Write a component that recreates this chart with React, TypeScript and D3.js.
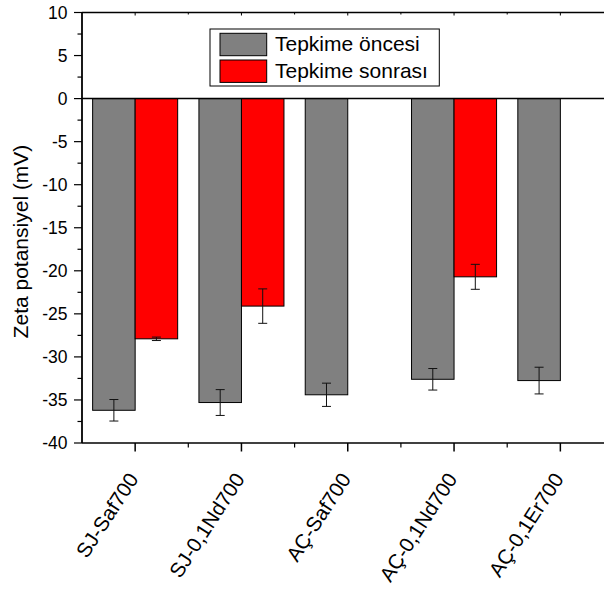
import React from "react";
import * as d3 from "d3";

const categories = ["SJ-Saf700", "SJ-0,1Nd700", "AÇ-Saf700", "AÇ-0,1Nd700", "AÇ-0,1Er700"];
const beforeValues = [-36.2, -35.3, -34.4, -32.6, -32.75];
const beforeErrors = [1.25, 1.5, 1.35, 1.25, 1.55];
const afterValues: (number | null)[] = [-27.9, -24.1, null, -20.7, null];
const afterErrors: (number | null)[] = [0.2, 2.0, null, 1.45, null];
const seriesNames = ["Tepkime öncesi", "Tepkime sonrası"];
const yTicks = [10, 5, 0, -5, -10, -15, -20, -25, -30, -35, -40];

const W = 604;
const H = 592;
const FONT = "'Liberation Sans', Arial, sans-serif";

export default function App() {
  const left = 82;
  const step = 106.3;
  const x = d3.scaleBand<string>().domain(categories).range([left, left + step * categories.length]).paddingInner(0).paddingOuter(0);
  const bw = x.bandwidth();
  const barW = bw * 0.4;
  const y = d3.scaleLinear().domain([-40, 10]).range([443, 12.5]);
  const top = y(10);
  const bottom = y(-40);
  const minorY = d3.range(-40, 10.01, 2.5);
  const cx = (c: string) => (x(c) as number) + bw / 2;
  const right = W + 20;

  const errBar = (xc: number, v: number, e: number, key: string) => (
    <g key={key} stroke="#111" strokeWidth={1}>
      <line x1={xc} x2={xc} y1={y(v + e)} y2={y(v - e)} />
      <line x1={xc - 4.5} x2={xc + 4.5} y1={y(v + e)} y2={y(v + e)} />
      <line x1={xc - 4.5} x2={xc + 4.5} y1={y(v - e)} y2={y(v - e)} />
    </g>
  );

  return (
    <svg width={W} height={H} style={{ position: "absolute", left: 0, top: 0, background: "#fff" }} fontFamily={FONT}>
      <rect x={0} y={0} width={W} height={H} fill="#fff" />
      {categories.map((c, i) => (
        <g key={c}>
          <rect x={cx(c) - barW} y={y(0)} width={barW} height={y(beforeValues[i]) - y(0)} fill="#808080" stroke="#000" strokeWidth={1} />
          {afterValues[i] !== null && (
            <rect x={cx(c)} y={y(0)} width={barW} height={y(afterValues[i] as number) - y(0)} fill="#FF0000" stroke="#000" strokeWidth={1} />
          )}
        </g>
      ))}
      {categories.map((c, i) => errBar(cx(c) - barW / 2, beforeValues[i], beforeErrors[i], "eb" + i))}
      {categories.map((c, i) =>
        afterValues[i] !== null ? errBar(cx(c) + barW / 2, afterValues[i] as number, afterErrors[i] as number, "ea" + i) : null
      )}
      <line x1={left} x2={right} y1={y(0)} y2={y(0)} stroke="#000" strokeWidth={1.5} />
      <line x1={left} x2={right} y1={top} y2={top} stroke="#000" strokeWidth={1.5} />
      <line x1={left} x2={right} y1={bottom} y2={bottom} stroke="#000" strokeWidth={1.5} />
      <line x1={left} x2={left} y1={top} y2={bottom} stroke="#000" strokeWidth={1.8} />
      {minorY.map((v) => {
        const major = Math.abs(v % 5) < 1e-6;
        return <line key={"yt" + v} x1={left - (major ? 8 : 4.5)} x2={left} y1={y(v)} y2={y(v)} stroke="#000" strokeWidth={1.2} />;
      })}
      {yTicks.map((v) => (
        <text key={"yl" + v} x={67.5} y={y(v)} dy="0.36em" textAnchor="end" fontSize={17.5} fill="#000">
          {v}
        </text>
      ))}
      {categories.map((c, i) => (
        <g key={"xt" + i}>
          <line x1={cx(c)} x2={cx(c)} y1={bottom} y2={bottom + 8.5} stroke="#000" strokeWidth={1.5} />
          <line x1={cx(c) + bw / 2} x2={cx(c) + bw / 2} y1={bottom} y2={bottom + 4.5} stroke="#000" strokeWidth={1.2} />
          <line x1={cx(c)} x2={cx(c)} y1={top} y2={top + 3} stroke="#000" strokeWidth={1} />
          <line x1={cx(c) + bw / 2} x2={cx(c) + bw / 2} y1={top} y2={top + 2} stroke="#000" strokeWidth={1} />
        </g>
      ))}
      {categories.map((c) => (
        <text key={"xl" + c} transform={`translate(${cx(c) + 4},${479}) rotate(-57)`} textAnchor="end" fontSize={20.5} fill="#000">
          {c}
        </text>
      ))}
      <text transform={`translate(28,241.5) rotate(-90)`} textAnchor="middle" fontSize={21} fill="#000">
        Zeta potansiyel (mV)
      </text>
      <rect x={210} y={29} width={229.3} height={57} fill="#fff" stroke="#000" strokeWidth={1} />
      <rect x={220} y={33.3} width={46.7} height={22.4} fill="#808080" stroke="#000" strokeWidth={1} />
      <rect x={220} y={60} width={46.7} height={22.4} fill="#FF0000" stroke="#000" strokeWidth={1} />
      <text x={275} y={51} fontSize={21} fill="#000">{seriesNames[0]}</text>
      <text x={275} y={77.5} fontSize={21} fill="#000">{seriesNames[1]}</text>
    </svg>
  );
}
